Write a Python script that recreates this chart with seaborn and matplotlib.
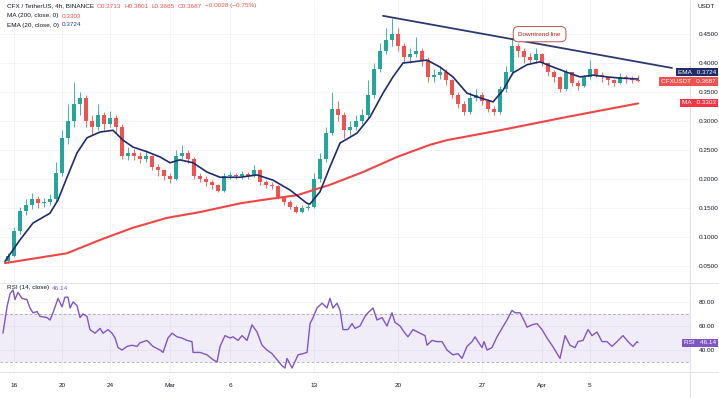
import numpy as np
import pandas as pd
import matplotlib
matplotlib.use('Agg')
import matplotlib.pyplot as plt
import matplotlib.dates as mdates
import seaborn as sns

# 12h candles starting 2023-02-15 12:00
first_open = 0.058
close = [0.068, 0.110, 0.145, 0.155, 0.165, 0.158, 0.160, 0.165, 0.210, 0.270,
         0.300, 0.330, 0.340, 0.300, 0.290, 0.310, 0.295, 0.305, 0.290, 0.240,
         0.245, 0.240, 0.235, 0.240, 0.220, 0.215, 0.205, 0.200, 0.240, 0.245,
         0.235, 0.205, 0.200, 0.195, 0.190, 0.180, 0.205, 0.207, 0.205, 0.208,
         0.205, 0.215, 0.195, 0.190, 0.188, 0.168, 0.160, 0.152, 0.143, 0.150,
         0.152, 0.200, 0.235, 0.280, 0.320, 0.310, 0.285, 0.290, 0.300, 0.310,
         0.345, 0.390, 0.420, 0.440, 0.450, 0.430, 0.410, 0.415, 0.420, 0.405,
         0.375, 0.380, 0.385, 0.370, 0.345, 0.330, 0.315, 0.340, 0.345, 0.335,
         0.320, 0.315, 0.355, 0.385, 0.430, 0.420, 0.410, 0.405, 0.415, 0.400,
         0.385, 0.375, 0.355, 0.385, 0.365, 0.360, 0.375, 0.390, 0.380, 0.375,
         0.370, 0.365, 0.375, 0.372, 0.3713, 0.3687]
high = [0.072, 0.118, 0.152, 0.165, 0.176, 0.170, 0.168, 0.175, 0.230, 0.285,
        0.330, 0.367, 0.350, 0.345, 0.310, 0.330, 0.315, 0.318, 0.310, 0.295,
        0.255, 0.252, 0.246, 0.250, 0.242, 0.226, 0.218, 0.210, 0.250, 0.258,
        0.250, 0.238, 0.210, 0.205, 0.198, 0.192, 0.210, 0.212, 0.210, 0.213,
        0.212, 0.224, 0.218, 0.198, 0.195, 0.190, 0.170, 0.163, 0.155, 0.155,
        0.158, 0.210, 0.245, 0.290, 0.350, 0.335, 0.315, 0.300, 0.310, 0.320,
        0.370, 0.400, 0.435, 0.460, 0.478, 0.460, 0.435, 0.425, 0.445, 0.425,
        0.410, 0.390, 0.395, 0.390, 0.372, 0.350, 0.335, 0.350, 0.355, 0.350,
        0.338, 0.325, 0.360, 0.395, 0.443, 0.435, 0.425, 0.418, 0.425, 0.418,
        0.400, 0.388, 0.378, 0.390, 0.385, 0.370, 0.380, 0.405, 0.392, 0.385,
        0.378, 0.373, 0.382, 0.380, 0.378, 0.3801]
low = [0.055, 0.066, 0.105, 0.138, 0.148, 0.150, 0.152, 0.155, 0.160, 0.205,
       0.260, 0.290, 0.310, 0.290, 0.275, 0.285, 0.285, 0.290, 0.280, 0.235,
       0.232, 0.233, 0.228, 0.230, 0.215, 0.205, 0.198, 0.193, 0.198, 0.235,
       0.228, 0.200, 0.195, 0.188, 0.183, 0.177, 0.178, 0.200, 0.200, 0.200,
       0.200, 0.203, 0.190, 0.185, 0.182, 0.165, 0.155, 0.148, 0.141, 0.142,
       0.146, 0.150, 0.195, 0.230, 0.275, 0.300, 0.270, 0.275, 0.285, 0.295,
       0.305, 0.340, 0.385, 0.415, 0.430, 0.420, 0.400, 0.400, 0.410, 0.395,
       0.367, 0.368, 0.372, 0.362, 0.340, 0.322, 0.310, 0.312, 0.335, 0.328,
       0.315, 0.310, 0.312, 0.350, 0.380, 0.410, 0.400, 0.398, 0.400, 0.395,
       0.378, 0.368, 0.350, 0.352, 0.360, 0.354, 0.358, 0.372, 0.375, 0.368,
       0.362, 0.360, 0.363, 0.366, 0.365, 0.3665]

# indicator lines, days after 2023-02-16
ema_day = [-0.75, 0.5, 1.58, 3.0, 3.67, 4.42, 5.25, 6.08, 7.17, 8.25, 9.08, 9.92,
           11.08, 12.17, 13.0, 13.83, 14.92, 16.08, 17.17, 18.83, 20.25, 21.58,
           23.0, 24.42, 24.67, 25.5, 26.33, 27.17, 28.58, 29.67, 30.75, 31.58,
           32.42, 33.25, 34.42, 35.5, 36.58, 37.75, 38.83, 39.92, 40.75, 41.58,
           42.75, 43.83, 44.92, 46.08, 47.17, 48.25, 49.42, 50.5, 52.0]
ema_val = [0.058, 0.095, 0.124, 0.141, 0.164, 0.203, 0.245, 0.271, 0.281, 0.284,
           0.267, 0.255, 0.247, 0.238, 0.228, 0.233, 0.228, 0.212, 0.203, 0.203,
           0.207, 0.198, 0.181, 0.158, 0.157, 0.178, 0.221, 0.262, 0.279, 0.307,
           0.348, 0.376, 0.400, 0.402, 0.405, 0.393, 0.376, 0.348, 0.340, 0.333,
           0.353, 0.383, 0.397, 0.402, 0.393, 0.384, 0.376, 0.379, 0.376, 0.374,
           0.3724]
ma_day = [-0.75, 4.42, 7.17, 9.92, 12.75, 15.5, 18.83, 20.75, 23.58, 26.33,
          29.08, 31.92, 34.67, 36.08, 40.5, 46.08, 52.0]
ma_val = [0.055, 0.072, 0.095, 0.116, 0.133, 0.143, 0.158, 0.164, 0.172, 0.190,
          0.212, 0.238, 0.259, 0.267, 0.284, 0.307, 0.3303]

rsi_day = [-0.92, -0.58, -0.33, -0.08, 0.08, 0.33, 0.67, 1.08, 1.33, 1.58, 1.92,
           2.17, 2.75, 3.0, 3.25, 3.67, 4.0, 4.25, 4.5, 4.67, 4.92, 5.25, 5.5,
           5.75, 6.08, 6.33, 6.75, 7.17, 7.42, 7.83, 8.17, 8.42, 8.67, 9.0, 9.42,
           9.83, 10.25, 10.5, 11.08, 11.58, 12.17, 12.42, 12.83, 13.17, 13.58,
           14.0, 14.42, 14.83, 14.92, 15.5, 16.08, 16.58, 16.92, 17.17, 17.58,
           18.0, 18.25, 18.67, 19.0, 19.42, 19.83, 20.25, 20.67, 21.08, 21.5,
           21.92, 22.33, 22.58, 22.75, 23.17, 23.67, 24.08, 24.42, 24.67, 24.92,
           25.25, 25.67, 26.08, 26.33, 26.58, 26.92, 27.17, 27.42, 27.83, 28.17,
           28.42, 28.83, 29.25, 29.5, 29.92, 30.25, 30.67, 31.08, 31.5, 31.75,
           32.17, 32.58, 32.83, 33.25, 33.83, 34.25, 34.42, 34.83, 35.25, 35.67,
           36.08, 36.58, 37.0, 37.33, 37.75, 38.17, 38.42, 38.67, 39.0, 39.17,
           39.42, 39.83, 40.25, 40.67, 41.08, 41.5, 41.75, 42.17, 42.58, 42.75,
           43.17, 43.58, 44.0, 44.42, 44.83, 45.25, 45.5, 45.92, 46.33, 46.75,
           47.0, 47.42, 47.83, 48.17, 48.58, 49.0, 49.42, 49.83, 50.25, 50.75,
           51.17, 51.58, 51.92, 52.0]
rsi_val = [54, 76, 87, 90, 82, 88, 83, 82, 75, 71, 72, 68, 67, 65, 71, 83, 76, 84,
           84, 75, 80, 77, 67, 70, 68, 57, 54, 58, 54, 57, 54, 50, 42, 40, 43, 44,
           43, 46, 48, 43, 40, 38, 50, 54, 51, 50, 48, 47, 38, 38, 36, 32, 30, 43,
           52, 50, 51, 48, 52, 48, 61, 55, 44, 40, 37, 32, 27, 25, 33, 25, 36, 37,
           38, 62, 67, 75, 79, 75, 83, 75, 79, 73, 57, 57, 62, 58, 60, 68, 71, 75,
           65, 67, 60, 71, 63, 60, 54, 51, 57, 54, 52, 44, 48, 47, 47, 40, 36, 37,
           33, 43, 47, 51, 47, 42, 47, 40, 42, 51, 58, 65, 73, 71, 71, 63, 59, 61,
           62, 57, 50, 44, 37, 33, 52, 44, 42, 47, 48, 57, 52, 55, 47, 47, 43, 47,
           52, 47, 43, 47, 46.14]

tick_dates = ['2023-02-16', '2023-02-20', '2023-02-24', '2023-03-01', '2023-03-06',
              '2023-03-13', '2023-03-20', '2023-03-27', '2023-04-01', '2023-04-05']
tick_labels = ['16', '20', '24', 'Mar', '6', '13', '20', '27', 'Apr', '5']
price_ticks = [0.05, 0.10, 0.15, 0.20, 0.25, 0.30, 0.35, 0.40, 0.45]

sns.set_style('white')
plt.rcParams['font.family'] = ['Liberation Sans', 'DejaVu Sans']

UP, DOWN = '#26a69a', '#ef5350'
NAVY = '#1f2b6b'
TXT = '#131722'
GRID = '#f0f3fa'
FS = 4.6

W, H = 719, 398
fig = plt.figure(figsize=(W / 100, H / 100), dpi=100)
ax = fig.add_axes([0, 1 - 283 / H, 690 / W, 283 / H])
ax2 = fig.add_axes([0, 1 - 372 / H, 690 / W, 89 / H], sharex=ax)

base = mdates.date2num(pd.Timestamp('2023-02-16'))
t = mdates.date2num(pd.date_range('2023-02-15 12:00', periods=len(close), freq='12h'))
c = np.array(close)
o = np.array([first_open] + close[:-1])
cols = np.where(c >= o, UP, DOWN)

ax.vlines(t, low, high, colors=cols, lw=0.6, zorder=2)
ax.bar(t, np.maximum(np.abs(c - o), 0.0015), bottom=np.minimum(o, c), width=0.28,
       color=cols, lw=0, zorder=3)

sns.lineplot(x=base + np.array(ma_day), y=ma_val, ax=ax, color='#f04545', lw=1.5, zorder=4)
sns.lineplot(x=base + np.array(ema_day), y=ema_val, ax=ax, color=NAVY, lw=1.2, zorder=5)

# downtrend line drawn on the chart
ax.plot([base + 30.75, base + 54.83], [0.4813, 0.3914], color='#2b3970', lw=1.3, zorder=6)
ax.text(base + 43.8, 0.4497, 'Downtrend line', fontsize=FS, color='#b71c1c',
        ha='center', va='center', zorder=7,
        bbox=dict(boxstyle='round,pad=0.8', fc='white', ec='#c0504d', lw=0.7))

ax.set_xlim(base - 1.1667, base + 56.333)
ax.set_ylim(0.0207, 0.5086)
ax.yaxis.tick_right()
ax.set_yticks(price_ticks)
ax.set_yticklabels([f'{v:.4f}' for v in price_ticks])
ax.tick_params(axis='y', length=0, pad=6, labelsize=FS, colors=TXT)
ax.tick_params(axis='x', length=0, labelbottom=False)
ax.grid(True, color=GRID, lw=0.6)
ax.set_axisbelow(True)

# RSI pane
ax2.axhspan(30, 70, color='#7e57c2', alpha=0.1, lw=0)
for lvl in (30, 70):
    ax2.axhline(lvl, color='#9598a1', lw=0.5, ls=(0, (4, 3)))
sns.lineplot(x=base + np.array(rsi_day), y=rsi_val, ax=ax2, color='#7e57c2', lw=1.0)
ax2.set_ylim(21.7, 95.8)
ax2.yaxis.tick_right()
ax2.set_yticks([40, 60, 80])
ax2.set_yticklabels(['40.00', '60.00', '80.00'])
ax2.tick_params(axis='y', length=0, pad=6, labelsize=FS, colors=TXT)
ax2.set_xticks(mdates.date2num(pd.to_datetime(tick_dates)))
ax2.set_xticklabels(tick_labels)
ax2.tick_params(axis='x', length=0, pad=8, labelsize=FS, colors=TXT)
ax2.grid(True, color=GRID, lw=0.6)
ax2.set_axisbelow(True)

for a in (ax, ax2):
    for s in a.spines.values():
        s.set_visible(False)
    a.set_xlabel('')
    a.set_ylabel('')

# pane borders
for (x0, y0, x1, y1) in [(0, 283, 719, 283), (0, 372, 719, 372), (690, 0, 690, 398)]:
    fig.add_artist(plt.Line2D([x0 / W, x1 / W], [1 - y0 / H, 1 - y1 / H],
                              color='#e0e3eb', lw=0.7))

renderer = fig.canvas.get_renderer()

def row(x, y, parts):
    # place coloured pieces one after another on one line
    for s, col in parts:
        tx = fig.text(x / W, 1 - y / H, s, va='center', fontsize=FS, color=col)
        x = tx.get_window_extent(renderer).x1 + 3

row(7, 6, [('CFX / TetherUS, 4h, BINANCE', TXT), ('O0.3713', DOWN), ('H0.3801', DOWN),
           ('L0.3665', DOWN), ('C0.3687', DOWN), ('\u22120.0028 (\u22120.75%)', DOWN)])
row(7, 16, [('MA (200, close, 0)', TXT), ('0.3303', DOWN)])
row(7, 25, [('EMA (20, close, 0)', TXT), ('0.3724', '#2a3f8f')])
row(7, 288, [('RSI (14, close)', TXT), ('46.14', '#7e57c2')])
fig.text(697 / W, 1 - 6 / H, 'USDT', va='center', fontsize=FS, color=TXT)

# price scale tags, right-aligned against the edge
def tag(y, s, fc):
    fig.text(716 / W, 1 - y / H, s, va='center', ha='right', fontsize=FS, color='white',
             bbox=dict(boxstyle='square,pad=0.3', fc=fc, ec='none'))

tag(72, 'EMA   0.3724', NAVY)
tag(81.5, 'CFXUSDT   0.3687', DOWN)
tag(103, 'MA   0.3303', '#f23645')
tag(343, 'RSI   46.14', '#7e57c2')

fig.savefig('out.png', dpi=100)
